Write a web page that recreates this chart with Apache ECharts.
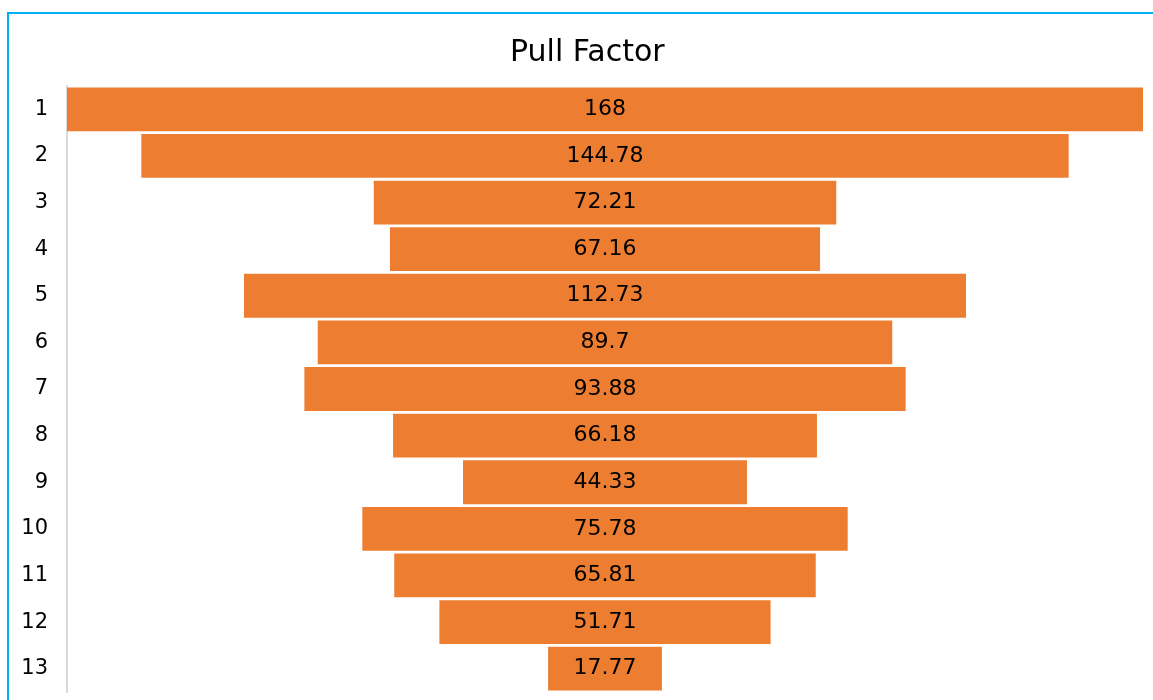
<!DOCTYPE html>
<html>
<head>
<meta charset="utf-8">
<script src="https://cdn.jsdelivr.net/npm/echarts@6/dist/echarts.min.js"></script>
<style>
  html, body { margin: 0; padding: 0; background: #fff; }
  #chart { width: 1153px; height: 700px; }
</style>
</head>
<body>
<div id="chart"></div>
<script>
// funnel-style chart: rows top to bottom
const categories = ['1', '2', '3', '4', '5', '6', '7', '8', '9', '10', '11', '12', '13'];
const pullFactor = [168, 144.78, 72.21, 67.16, 112.73, 89.7, 93.88, 66.18, 44.33, 75.78, 65.81, 51.71, 17.77];

const maxVal = Math.max(...pullFactor);
// invisible spacer so every bar sits centred
const spacer = pullFactor.map(v => (maxVal - v) / 2);

const chart = echarts.init(document.getElementById('chart'));

const option = {
  animation: false,
  title: {
    text: 'Pull Factor',
    left: 505,
    top: 33,
    textStyle: {
      fontFamily: 'DejaVu Sans',
      fontSize: 30,
      fontWeight: 'normal',
      color: '#000'
    }
  },
  graphic: [
    {
      type: 'rect',
      shape: { x: 8, y: 13, width: 1300, height: 900 },
      style: { fill: 'none', stroke: '#00b0f0', lineWidth: 2 },
      silent: true
    }
  ],
  grid: { left: 67, right: 10, top: 86, bottom: 8 },
  xAxis: {
    type: 'value',
    min: 0,
    max: maxVal,
    show: false
  },
  yAxis: {
    type: 'category',
    data: categories,
    inverse: true,
    axisLine: { show: true, lineStyle: { color: '#d9d9d9', width: 2 } },
    axisTick: { show: false },
    axisLabel: {
      margin: 19,
      padding: [0, 0, 4, 0],
      fontFamily: 'DejaVu Sans',
      fontSize: 21,
      color: '#000'
    }
  },
  series: [
    {
      type: 'bar',
      stack: 'f',
      data: spacer,
      silent: true,
      itemStyle: { color: 'transparent' },
      barCategoryGap: '6%'
    },
    {
      type: 'bar',
      stack: 'f',
      data: pullFactor,
      barCategoryGap: '6%',
      itemStyle: { color: '#ed7d31' },
      label: {
        show: true,
        position: 'inside',
        padding: [0, 0, 4, 0],
        fontFamily: 'DejaVu Sans',
        fontSize: 22,
        color: '#000'
      }
    }
  ]
};

chart.setOption(option);
</script>
</body>
</html>
